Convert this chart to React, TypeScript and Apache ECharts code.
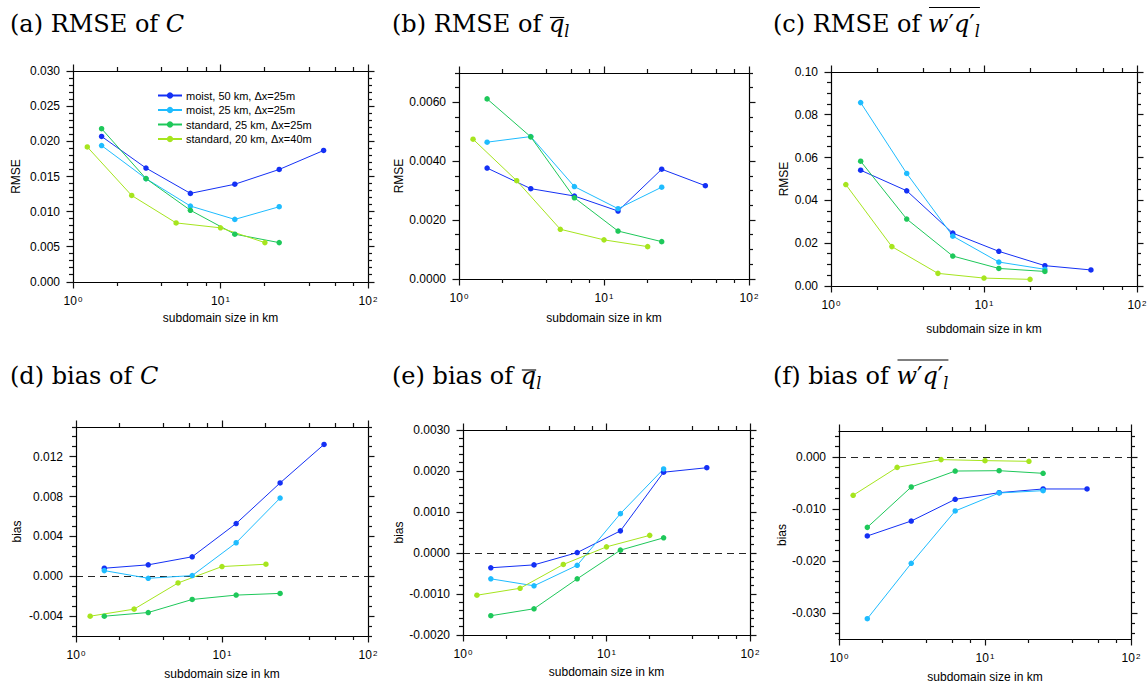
import React, { useEffect, useRef } from "react";
import * as echarts from "echarts";

// ---------- data ----------
const X_MOIST50 = [1.5625, 3.125, 6.25, 12.5, 25, 50];
const X_MOIST25 = [1.5625, 3.125, 6.25, 12.5, 25];
const X_STD25 = [1.5625, 3.125, 6.25, 12.5, 25];
const X_STD20 = [1.25, 2.5, 5, 10, 20];

const SERIES_NAMES = [
  "moist, 50 km, Δx=25m",
  "moist, 25 km, Δx=25m",
  "standard, 25 km, Δx=25m",
  "standard, 20 km, Δx=40m",
];
const SERIES_COLORS = ["#1430f5", "#1ebcff", "#1ec85a", "#a6e51e"];

// (a) RMSE of C
const RMSE_C_MOIST50 = [0.0207, 0.0162, 0.0126, 0.0139, 0.016, 0.0187];
const RMSE_C_MOIST25 = [0.0194, 0.0147, 0.0108, 0.0089, 0.0107];
const RMSE_C_STD25 = [0.0218, 0.0147, 0.0102, 0.0068, 0.0056];
const RMSE_C_STD20 = [0.0192, 0.0123, 0.0084, 0.0077, 0.0056];
// (b) RMSE of q_l
const RMSE_Q_MOIST50 = [0.00377, 0.00307, 0.00282, 0.00231, 0.00373, 0.00317];
const RMSE_Q_MOIST25 = [0.00465, 0.00484, 0.00314, 0.00239, 0.00312];
const RMSE_Q_STD25 = [0.00612, 0.00483, 0.00276, 0.00163, 0.00127];
const RMSE_Q_STD20 = [0.00475, 0.00334, 0.00169, 0.00133, 0.0011];
// (c) RMSE of w'q'_l
const RMSE_WQ_MOIST50 = [0.0541, 0.0445, 0.0247, 0.0162, 0.0095, 0.0075];
const RMSE_WQ_MOIST25 = [0.0857, 0.0526, 0.0233, 0.0112, 0.0078];
const RMSE_WQ_STD25 = [0.0583, 0.0313, 0.014, 0.0082, 0.0068];
const RMSE_WQ_STD20 = [0.0474, 0.0184, 0.0059, 0.0037, 0.0031];
// (d) bias of C
const BIAS_C_MOIST50 = [0.00081, 0.00115, 0.00196, 0.0053, 0.00938, 0.01325];
const BIAS_C_MOIST25 = [0.00057, -0.0002, 0.00007, 0.00337, 0.00786];
const BIAS_C_STD25 = [-0.00401, -0.00364, -0.00233, -0.00189, -0.00172];
const BIAS_C_STD20 = [-0.00401, -0.0033, -0.00067, 0.00098, 0.00121];
// (e) bias of q_l
const BIAS_Q_MOIST50 = [-0.00036, -0.00029, 0.00001, 0.00054, 0.00197, 0.00208];
const BIAS_Q_MOIST25 = [-0.00063, -0.0008, -0.0003, 0.00096, 0.00205];
const BIAS_Q_STD25 = [-0.00153, -0.00136, -0.00063, 0.00007, 0.00037];
const BIAS_Q_STD20 = [-0.00103, -0.00086, -0.00028, 0.00015, 0.00043];
// (f) bias of w'q'_l
const BIAS_WQ_MOIST50 = [-0.01519, -0.01231, -0.00814, -0.00686, -0.00615, -0.00615];
const BIAS_WQ_MOIST25 = [-0.0311, -0.02045, -0.01038, -0.00692, -0.00647];
const BIAS_WQ_STD25 = [-0.01353, -0.00577, -0.0027, -0.00263, -0.00314];
const BIAS_WQ_STD20 = [-0.00737, -0.002, -0.0005, -0.0007, -0.00083];

// tick labels
const X_MAJOR = [1, 10, 100];
const X_MINOR = [2, 4, 6, 8, 20, 40, 60, 80];
const Y_TICKS_A = [0, 0.005, 0.01, 0.015, 0.02, 0.025, 0.03];
const Y_TICKS_B = [0, 0.002, 0.004, 0.006];
const Y_TICKS_C = [0, 0.02, 0.04, 0.06, 0.08, 0.1];
const Y_TICKS_D = [-0.004, 0, 0.004, 0.008, 0.012];
const Y_TICKS_E = [-0.002, -0.001, 0, 0.001, 0.002, 0.003];
const Y_TICKS_F = [-0.03, -0.02, -0.01, 0];

const X_NAME = "subdomain size in km";

// ---------- layout / styling ----------
const SANS = "'Liberation Sans', Arial, Helvetica, sans-serif";
const SERIF = "'DejaVu Serif', serif";
const TITLE_SIZE = 24;

type Seg = { t: string; italic?: boolean; size?: number; dy?: number; over?: boolean };
type Panel = {
  grid: { left: number; top: number; width: number; height: number };
  yMin: number; yMax: number; yTicks: number[]; minorStep: number; dec: number;
  yName: string; yNameGap: number; xNameGap: number; zeroLine: boolean;
  series: number[][]; title: Seg[]; titleX: number; titleBase: number; overY?: number;
};

const XS = [X_MOIST50, X_MOIST25, X_STD25, X_STD20];

const PANELS: Panel[] = [
  {
    grid: { left: 73, top: 71, width: 295, height: 211 },
    yMin: 0, yMax: 0.03, yTicks: Y_TICKS_A, minorStep: 0.001, dec: 3,
    yName: "RMSE", yNameGap: 51, xNameGap: 30, zeroLine: false,
    series: [RMSE_C_MOIST50, RMSE_C_MOIST25, RMSE_C_STD25, RMSE_C_STD20],
    title: [{ t: "(a) RMSE of " }, { t: "C", italic: true }],
    titleX: 10, titleBase: 31.5,
  },
  {
    grid: { left: 459, top: 73, width: 290, height: 206 },
    yMin: 0, yMax: 0.007, yTicks: Y_TICKS_B, minorStep: 0.0005, dec: 4,
    yName: "RMSE", yNameGap: 53, xNameGap: 32.5, zeroLine: false,
    series: [RMSE_Q_MOIST50, RMSE_Q_MOIST25, RMSE_Q_STD25, RMSE_Q_STD20],
    title: [{ t: "(b) RMSE of " }, { t: "q", italic: true, over: true }, { t: "l", italic: true, size: 16, dy: 5 }],
    titleX: 392, titleBase: 31.5, overY: 14,
  },
  {
    grid: { left: 831, top: 72, width: 306, height: 214 },
    yMin: 0, yMax: 0.1, yTicks: Y_TICKS_C, minorStep: 0.005, dec: 2,
    yName: "RMSE", yNameGap: 41, xNameGap: 36.5, zeroLine: false,
    series: [RMSE_WQ_MOIST50, RMSE_WQ_MOIST25, RMSE_WQ_STD25, RMSE_WQ_STD20],
    title: [
      { t: "(c) RMSE of " }, { t: "w", italic: true, over: true }, { t: "′", over: true },
      { t: "q", italic: true, over: true }, { t: "′", over: true }, { t: "l", italic: true, size: 16, dy: 5, over: true },
    ],
    titleX: 773, titleBase: 31.5, overY: 24,
  },
  {
    grid: { left: 76, top: 427, width: 292, height: 209 },
    yMin: -0.006, yMax: 0.015, yTicks: Y_TICKS_D, minorStep: 0.001, dec: 3,
    yName: "bias", yNameGap: 53, xNameGap: 32, zeroLine: true,
    series: [BIAS_C_MOIST50, BIAS_C_MOIST25, BIAS_C_STD25, BIAS_C_STD20],
    title: [{ t: "(d) bias of " }, { t: "C", italic: true }],
    titleX: 10, titleBase: 384,
  },
  {
    grid: { left: 463, top: 430, width: 287, height: 205 },
    yMin: -0.002, yMax: 0.003, yTicks: Y_TICKS_E, minorStep: 0.0002, dec: 4,
    yName: "bias", yNameGap: 57, xNameGap: 31, zeroLine: true,
    series: [BIAS_Q_MOIST50, BIAS_Q_MOIST25, BIAS_Q_STD25, BIAS_Q_STD20],
    title: [{ t: "(e) bias of " }, { t: "q", italic: true, over: true }, { t: "l", italic: true, size: 16, dy: 5 }],
    titleX: 392, titleBase: 384, overY: 14,
  },
  {
    grid: { left: 839, top: 431, width: 292, height: 208 },
    yMin: -0.035, yMax: 0.005, yTicks: Y_TICKS_F, minorStep: 0.002, dec: 3,
    yName: "bias", yNameGap: 50, xNameGap: 32, zeroLine: true,
    series: [BIAS_WQ_MOIST50, BIAS_WQ_MOIST25, BIAS_WQ_STD25, BIAS_WQ_STD20],
    title: [
      { t: "(f) bias of " }, { t: "w", italic: true, over: true }, { t: "′", over: true },
      { t: "q", italic: true, over: true }, { t: "′", over: true }, { t: "l", italic: true, size: 16, dy: 5, over: true },
    ],
    titleX: 773, titleBase: 384, overY: 24,
  },
];

const AX_LINE = { color: "#000", width: 1.2 };
const MAJOR_LEN = 6.5;
const MINOR_LEN = 4;
const TICK_STYLE = { stroke: "#111", lineWidth: 1.2 };
const X_MIN = 1;
const X_MAX = 100;

function minorValues(min: number, max: number, step: number, majors: number[]) {
  const out: number[] = [];
  const start = Math.ceil(min / step - 1e-6);
  for (let i = start; i * step <= max + step * 1e-6; i++) {
    const v = Math.round(i * step * 1e9) / 1e9;
    if (v < min - 1e-12) continue;
    if (!majors.some((m) => Math.abs(m - v) < step / 10)) out.push(v);
  }
  return out;
}

function buildXAxes(p: Panel, gi: number) {
  const common = {
    type: "log", logBase: 10, gridIndex: gi, min: X_MIN, max: X_MAX,
    splitLine: { show: false }, minorTick: { show: false }, minorSplitLine: { show: false },
    axisTick: { show: false }, silent: true,
  };
  return [
    {
      ...common,
      position: "bottom",
      axisLine: { show: true, onZero: false, lineStyle: AX_LINE },
      axisLabel: {
        customValues: X_MAJOR,
        formatter: (v: number) => `10{s|${Math.round(Math.log10(v))}}`,
        margin: 13, color: "#000", fontSize: 12, fontFamily: SANS,
        rich: { s: { fontSize: 8, fontFamily: SANS, color: "#000", verticalAlign: "top", padding: [0, 0, 0, 1] } },
      },
      name: X_NAME, nameLocation: "middle", nameGap: p.xNameGap,
      nameTextStyle: { fontSize: 12, fontFamily: SANS, color: "#000" },
    },
    { ...common, position: "top", axisLine: { show: true, onZero: false, lineStyle: AX_LINE }, axisLabel: { show: false } },
  ];
}

function buildYAxes(p: Panel, gi: number) {
  const common = {
    type: "value", gridIndex: gi, min: p.yMin, max: p.yMax,
    splitLine: { show: false }, minorTick: { show: false }, axisTick: { show: false }, silent: true,
  };
  return [
    {
      ...common,
      position: "left",
      axisLine: { show: true, onZero: false, lineStyle: AX_LINE },
      axisLabel: {
        customValues: p.yTicks, formatter: (v: number) => v.toFixed(p.dec),
        margin: 13, color: "#000", fontSize: 12, fontFamily: SANS,
      },
      name: p.yName, nameLocation: "middle", nameGap: p.yNameGap,
      nameTextStyle: { fontSize: 12, fontFamily: SANS, color: "#000" },
    },
    { ...common, position: "right", axisLine: { show: true, onZero: false, lineStyle: AX_LINE }, axisLabel: { show: false } },
  ];
}

// tick marks (outward, on all four sides), placed through the axes' own scales
function tickSeries(p: Panel, gi: number) {
  const yMinor = minorValues(p.yMin, p.yMax, p.minorStep, p.yTicks);
  const yData = [...p.yTicks.map((v) => [X_MIN, v, 1]), ...yMinor.map((v) => [X_MIN, v, 0])];
  const xData = [...X_MAJOR.map((v) => [v, p.yMin, 1]), ...X_MINOR.map((v) => [v, p.yMin, 0])];
  const snap = (v: number) => Math.round(v - 0.5) + 0.5;
  const base = {
    type: "custom", coordinateSystem: "cartesian2d", xAxisIndex: gi * 2, yAxisIndex: gi * 2,
    clip: false, silent: true, z: 5,
  };
  return [
    {
      ...base,
      data: yData,
      renderItem: (_params: any, api: any) => {
        const v = api.value(1);
        const len = api.value(2) ? MAJOR_LEN : MINOR_LEN;
        const l = api.coord([X_MIN, v]);
        const r = api.coord([X_MAX, v]);
        const y = snap(l[1]);
        return {
          type: "group",
          children: [
            { type: "line", shape: { x1: l[0] - len, y1: y, x2: l[0], y2: y }, style: { ...TICK_STYLE } },
            { type: "line", shape: { x1: r[0], y1: y, x2: r[0] + len, y2: y }, style: { ...TICK_STYLE } },
          ],
        };
      },
    },
    {
      ...base,
      data: xData,
      renderItem: (_params: any, api: any) => {
        const v = api.value(0);
        const len = api.value(2) ? MAJOR_LEN : MINOR_LEN;
        const b = api.coord([v, p.yMin]);
        const t = api.coord([v, p.yMax]);
        const x = snap(b[0]);
        return {
          type: "group",
          children: [
            { type: "line", shape: { x1: x, y1: b[1], x2: x, y2: b[1] + len }, style: { ...TICK_STYLE } },
            { type: "line", shape: { x1: x, y1: t[1] - len, x2: x, y2: t[1] }, style: { ...TICK_STYLE } },
          ],
        };
      },
    },
  ];
}

let measureCtx: CanvasRenderingContext2D | null = null;
function measure(text: string, size: number, italic: boolean) {
  if (!measureCtx) measureCtx = document.createElement("canvas").getContext("2d");
  if (!measureCtx) return text.length * size * 0.6;
  measureCtx.font = `${italic ? "italic" : "normal"} ${size}px ${SERIF}`;
  return measureCtx.measureText(text).width;
}

function buildTitle(p: Panel) {
  const els: any[] = [];
  let x = p.titleX;
  let oStart = Infinity;
  let oEnd = -Infinity;
  for (const s of p.title) {
    const size = s.size ?? TITLE_SIZE;
    const w = measure(s.t, size, !!s.italic);
    const base = p.titleBase + (s.dy ?? 0);
    els.push({
      type: "text", x, y: base - 0.33 * size, silent: true,
      style: {
        text: s.t, fontSize: size, fontFamily: SERIF, fontStyle: s.italic ? "italic" : "normal", fill: "#000",
        align: "left", verticalAlign: "middle", textAlign: "left", textVerticalAlign: "middle",
      },
    });
    if (s.over) { oStart = Math.min(oStart, x); oEnd = Math.max(oEnd, x + w); }
    x += w;
  }
  if (oStart < oEnd && p.overY) {
    const y = p.titleBase - p.overY;
    els.push({ type: "line", silent: true, shape: { x1: oStart + 1, y1: y, x2: oEnd, y2: y }, style: { stroke: "#000", lineWidth: 1.1 } });
  }
  return els;
}

function buildOption() {
  const grids: any[] = [];
  const xAxes: any[] = [];
  const yAxes: any[] = [];
  const series: any[] = [];
  const graphics: any[] = [];
  PANELS.forEach((p, gi) => {
    grids.push({ ...p.grid, containLabel: false, outerBoundsMode: "none", show: false });
    xAxes.push(...buildXAxes(p, gi));
    yAxes.push(...buildYAxes(p, gi));
    series.push(...tickSeries(p, gi));
    p.series.forEach((ys, si) => {
      const xs = XS[si];
      const s: any = {
        type: "line", name: SERIES_NAMES[si], xAxisIndex: gi * 2, yAxisIndex: gi * 2,
        data: xs.map((xv, i) => [xv, ys[i]]),
        symbol: "circle", symbolSize: 5.5, showSymbol: true,
        lineStyle: { color: SERIES_COLORS[si], width: 1 }, itemStyle: { color: SERIES_COLORS[si] },
        emphasis: { disabled: true }, clip: false, z: 3,
      };
      if (si === 0 && p.zeroLine) {
        s.markLine = {
          silent: true, symbol: "none", label: { show: false },
          lineStyle: { color: "#000", type: [7, 5], width: 1.2, opacity: 0.85 },
          emphasis: { disabled: true }, data: [{ yAxis: 0 }], z: 1,
        };
      }
      series.push(s);
    });
    graphics.push(...buildTitle(p));
  });
  return {
    animation: false, backgroundColor: "#fff",
    grid: grids, xAxis: xAxes, yAxis: yAxes, series,
    legend: {
      show: true, data: SERIES_NAMES, orient: "vertical", left: 157, top: 90, padding: 0,
      itemGap: 3.5, itemWidth: 24, itemHeight: 8, selectedMode: false,
      textStyle: { fontSize: 11, fontFamily: SANS, color: "#000", padding: [0, 0, 0, -1] },
    },
    graphic: { elements: graphics },
  };
}

export default function App() {
  const ref = useRef<HTMLDivElement | null>(null);
  useEffect(() => {
    if (!ref.current) return;
    const chart = echarts.init(ref.current, undefined, { renderer: "svg" });
    chart.setOption(buildOption() as any);
    return () => { chart.dispose(); };
  }, []);
  return <div ref={ref} style={{ position: "absolute", left: 0, top: 0, width: 1148, height: 684, background: "#fff" }} />;
}
